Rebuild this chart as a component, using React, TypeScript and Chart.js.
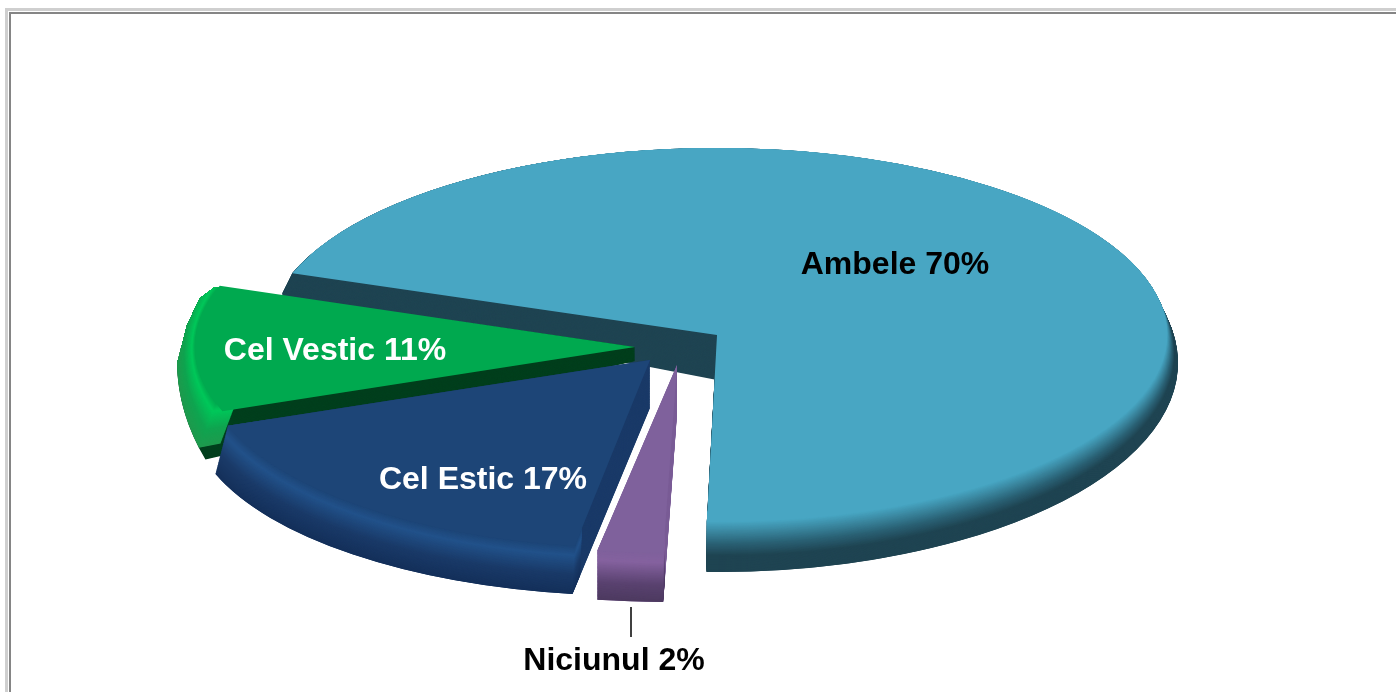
import React, { useEffect, useRef } from "react";
import { Chart, registerables } from "chart.js";

Chart.register(...registerables);

const categories = ["Ambele", "Niciunul", "Cel Estic", "Cel Vestic"];
const shares = [70, 2, 17, 11];
const startAngleDeg = -70.7;

const faceColors = ["#48a6c3", "#7f619c", "#1d4577", "#00a94f"];
const wallColors = ["#1f4452", "#7b5e98", "#1a3a68", "#003f1d"];
const labelColors = ["#000000", "#000000", "#ffffff", "#ffffff"];
const labelCenters = [[895, 265], [614, 661], [483, 480], [335, 351]];
const drawOrder = [0, 3, 2, 1];

type Stop = [number, string];
type Ell = [number, number, number, number];
const topShapes: Ell[] = [[717, 335, 450, 187], [677, 365, 527, 188], [650, 360, 447, 188], [635, 347, 440, 185]];
const bottomShapes: Ell[] = [[717, 363, 461, 209], [677, 414, 527, 188], [650, 408, 460, 188], [635, 361, 458, 284]];
const rimStops: Stop[][] = [
  [[0, "#48a6c3"], [0.45, "#2a6073"], [0.68, "#1f4452"], [1, "#1f4452"]],
  [[0, "#7f619c"], [0.2, "#85629f"], [0.65, "#5a4270"], [1, "#4d3a60"]],
  [[0, "#1d4577"], [0.2, "#22528a"], [0.6, "#1a3a68"], [1, "#14305a"]],
  [[0, "#00a94f"], [0.18, "#00c85a"], [0.6, "#10a450"], [1, "#1f9a4e"]],
];
const rimInner = [0.94, 0.9, 0.9, 0.95];
const rimInsets = [[6, 0], [0, 0], [0, 0], [2.5, 0]];
const sliceTurns = [0, 0.2, 1.2, 0];
const sliceShears = [0, 0, -0.01, 0];
const clipRegions: (number[][] | null)[] = [
  null,
  null,
  null,
  [[635, 347], [215, 287], [200, 298], [187, 325], [178, 360], [120, 373], [120, 520], [640, 520]],
];

const hex = (c: string) => [1, 3, 5].map((i) => parseInt(c.slice(i, i + 2), 16));
const mix = (stops: Stop[], t: number) => {
  for (let i = 1; i < stops.length; i++) {
    if (t <= stops[i][0]) {
      const [p0, c0] = stops[i - 1];
      const [p1, c1] = stops[i];
      const u = (t - p0) / (p1 - p0 || 1);
      const a = hex(c0);
      const b = hex(c1);
      return `rgb(${a.map((v, k) => Math.round(v + (b[k] - v) * u)).join(",")})`;
    }
  }
  return stops[stops.length - 1][1];
};

const plainOptions = (backgroundColor: string) => ({
  backgroundColor,
  borderColor: backgroundColor,
  borderWidth: 0,
  borderAlign: "center",
  offset: 0,
  spacing: 0,
  circular: true,
});

function paint(ctx: CanvasRenderingContext2D, arc: any, color: string, a: Ell, b: Ell, t: number, turn: number, baseShear: number, shear = 0, patch: any = {}) {
  const R = arc.outerRadius;
  const x = arc.x;
  const y = arc.y;
  const cx = a[0] + (b[0] - a[0]) * t;
  const cy = a[1] + (b[1] - a[1]) * t;
  const rx = a[2] + (b[2] - a[2]) * t;
  const ry = a[3] + (b[3] - a[3]) * t;
  const saved: any = { options: arc.options, innerRadius: arc.innerRadius, startAngle: arc.startAngle, endAngle: arc.endAngle };
  arc.options = plainOptions(color);
  Object.assign(arc, patch);
  ctx.save();
  ctx.translate(cx, cy);
  ctx.transform(1, baseShear + shear * t, 0, 1, 0, 0);
  ctx.scale(rx / R, ry / R);
  ctx.rotate((turn * Math.PI) / 180);
  ctx.translate(-x, -y);
  arc.draw(ctx);
  ctx.restore();
  Object.assign(arc, saved);
}

const pie3d = {
  id: "pie3d",
  beforeDatasetsDraw(chart: any) {
    const ctx: CanvasRenderingContext2D = chart.ctx;
    const arcs = chart.getDatasetMeta(0).data;
    const layers = 70;
    drawOrder.forEach((i) => {
      const arc = arcs[i];
      const top = topShapes[i];
      const bottom = bottomShapes[i];
      const turn = sliceTurns[i];
      const base = sliceShears[i];
      const R = arc.outerRadius;
      const clip = clipRegions[i];
      ctx.save();
      if (clip) {
        ctx.beginPath();
        clip.forEach(([x, y], k) => (k ? ctx.lineTo(x, y) : ctx.moveTo(x, y)));
        ctx.closePath();
        ctx.clip();
      }
      for (let n = layers; n >= 0; n--) paint(ctx, arc, wallColors[i], top, bottom, n / layers, turn, base);
      if (i === 0) {
        ctx.save();
        ctx.beginPath();
        ctx.rect(0, 0, 717, 500);
        ctx.clip();
        const deep: Ell = [717, 380, 461, 209];
        for (let n = layers; n >= 0; n--) paint(ctx, arc, wallColors[i], top, deep, n / layers, turn, base, 0.035);
        ctx.restore();
      }
      const patch = {
        innerRadius: R * rimInner[i],
        startAngle: arc.startAngle + (rimInsets[i][0] * Math.PI) / 180,
        endAngle: arc.endAngle - (rimInsets[i][1] * Math.PI) / 180,
      };
      for (let n = layers; n >= 0; n--) {
        const t = n / layers;
        paint(ctx, arc, mix(rimStops[i], t), top, bottom, t, turn, base, 0, patch);
      }
      ctx.restore();
      paint(ctx, arc, faceColors[i], top, bottom, 0, turn, base);
    });

    ctx.save();
    ctx.strokeStyle = "#000000";
    ctx.lineWidth = 1.5;
    ctx.beginPath();
    ctx.moveTo(631, 607);
    ctx.lineTo(631, 637);
    ctx.stroke();
    ctx.font = 'bold 32px "Liberation Sans"';
    ctx.textAlign = "center";
    ctx.textBaseline = "middle";
    categories.forEach((c, i) => {
      ctx.fillStyle = labelColors[i];
      ctx.fillText(`${c} ${shares[i]}%`, labelCenters[i][0], labelCenters[i][1]);
    });
    ctx.restore();
    return false;
  },
};

export default function App() {
  const ref = useRef<HTMLCanvasElement>(null);
  useEffect(() => {
    const chart = new Chart(ref.current as HTMLCanvasElement, {
      type: "pie",
      data: {
        labels: categories,
        datasets: [{ data: shares, backgroundColor: faceColors, borderWidth: 0 }],
      },
      options: {
        animation: false,
        responsive: false,
        rotation: startAngleDeg,
        layout: { padding: 0 },
        plugins: { legend: { display: false }, tooltip: { enabled: false } },
      },
      plugins: [pie3d as any],
    });
    return () => chart.destroy();
  }, []);
  const line = (style: React.CSSProperties) => <div style={{ position: "absolute", ...style }} />;
  return (
    <div style={{ position: "fixed", left: 0, top: 0, width: 1396, height: 692, overflow: "hidden", background: "#ffffff" }}>
      <canvas ref={ref} width={1396} height={692} style={{ position: "absolute", left: 0, top: 0, width: 1396, height: 692 }} />
      {line({ left: 5, top: 8, right: 0, height: 3, background: "#cfcfcf" })}
      {line({ left: 5, top: 8, bottom: 0, width: 3, background: "#cfcfcf" })}
      {line({ left: 9, top: 12, right: 0, height: 2, background: "#858585" })}
      {line({ left: 9, top: 12, bottom: 0, width: 2, background: "#858585" })}
    </div>
  );
}
